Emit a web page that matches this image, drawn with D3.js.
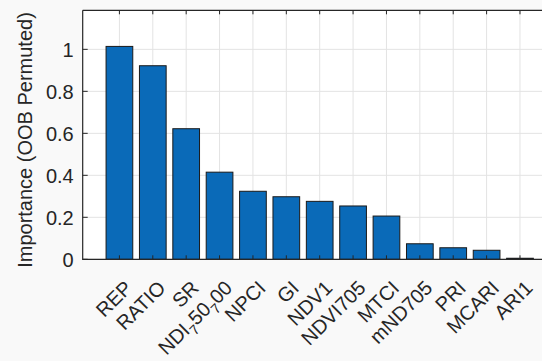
<!DOCTYPE html>
<html><head><meta charset="utf-8">
<script src="https://cdn.jsdelivr.net/npm/d3@7"></script>
<style>html,body{margin:0;padding:0;background:#f9f9f9;}svg{display:block;}</style>
</head><body>
<svg id="c" width="542" height="361"></svg>
<script>
const categories = ["REP","RATIO","SR","NDI_750_700","NPCI","GI","NDV1","NDVI705","MTCI","mND705","PRI","MCARI","ARI1"];
const importance = [1.014,0.922,0.622,0.415,0.324,0.298,0.276,0.254,0.206,0.074,0.055,0.043,0.005];
const yTicks = [0,0.2,0.4,0.6,0.8,1];
const yTickLabels = ["0","0.2","0.4","0.6","0.8","1"];
const yLabel = "Importance (OOB Permuted)";

(function(){
const svg = d3.select("#c");
const pLeft = 82.7, pTop = 10.3, pBottom = 259.3;
const x = d3.scaleLinear().domain([-1.1, categories.length + 0.1]).range([pLeft, pLeft + (categories.length + 1.2) * 33.38]);
const y = d3.scaleLinear().domain([0, 1.186]).range([pBottom, pTop]);
const pRight = x.range()[1];
const font = "'Liberation Sans', Arial, sans-serif";
const axisCol = "#262626";
const fs = 20;

svg.append("rect").attr("x", pLeft).attr("y", pTop).attr("width", pRight - pLeft).attr("height", pBottom - pTop).attr("fill", "#fff");

// grid
const g = svg.append("g");
g.selectAll("line.gy").data(yTicks).join("line")
  .attr("x1", pLeft).attr("x2", pRight).attr("y1", d => y(d)).attr("y2", d => y(d))
  .attr("stroke", "#e3e3e3").attr("stroke-width", 1);
g.selectAll("line.gx").data(categories).join("line")
  .attr("x1", (d,i) => x(i)).attr("x2", (d,i) => x(i)).attr("y1", pTop).attr("y2", pBottom)
  .attr("stroke", "#e3e3e3").attr("stroke-width", 1);

// bars
svg.append("g").selectAll("rect").data(importance).join("rect")
  .attr("x", (d,i) => x(i - 0.4)).attr("width", x(0.4) - x(-0.4))
  .attr("y", d => y(d)).attr("height", d => y(0) - y(d))
  .attr("fill", "#0a6ab8").attr("stroke", "#1a1a1a").attr("stroke-width", 1);

// axes box
svg.append("path").attr("d", `M${pLeft},${pTop}H${pRight}M${pLeft},${pTop}V${pBottom}H${pRight}`)
  .attr("fill", "none").attr("stroke", axisCol).attr("stroke-width", 1.2);

// ticks
svg.append("g").selectAll("line").data(yTicks).join("line")
  .attr("x1", pLeft).attr("x2", pLeft + 5).attr("y1", d => y(d)).attr("y2", d => y(d))
  .attr("stroke", axisCol);
svg.append("g").selectAll("line").data(categories).join("line")
  .attr("x1", (d,i) => x(i)).attr("x2", (d,i) => x(i)).attr("y1", pTop).attr("y2", pTop + 4)
  .attr("stroke", axisCol);
svg.append("g").selectAll("line").data(categories).join("line")
  .attr("x1", (d,i) => x(i)).attr("x2", (d,i) => x(i)).attr("y1", pBottom).attr("y2", pBottom - 4)
  .attr("stroke", axisCol);

// y tick labels
svg.append("g").selectAll("text").data(yTicks).join("text")
  .attr("x", pLeft - 9).attr("y", d => y(d)).attr("dy", "0.36em")
  .attr("text-anchor", "end").attr("font-family", font).attr("font-size", fs).attr("fill", axisCol)
  .text((d,i) => yTickLabels[i]);

// x tick labels rotated
const xl = svg.append("g").selectAll("text").data(categories).join("text")
  .attr("transform", (d,i) => `translate(${x(i) + 4},${pBottom + 20}) rotate(-45)`)
  .attr("text-anchor", "end").attr("dy", "0.7em")
  .attr("font-family", font).attr("font-size", fs).attr("fill", axisCol);
xl.each(function(d) {
  const t = d3.select(this);
  if (d.includes("_")) {
    const parts = d.split("_");
    t.append("tspan").text(parts[0]);
    for (let k = 1; k < parts.length; k++) {
      t.append("tspan").attr("font-size", 14).attr("dy", 6).text(parts[k][0]);
      t.append("tspan").attr("dy", -6).text(parts[k].slice(1));
    }
  } else t.text(d);
});

// y label
svg.append("text").attr("transform", `translate(32,140) rotate(-90)`)
  .attr("text-anchor", "middle").attr("font-family", font).attr("font-size", fs).attr("fill", axisCol)
  .text(yLabel);
})();
</script>
</body></html>
